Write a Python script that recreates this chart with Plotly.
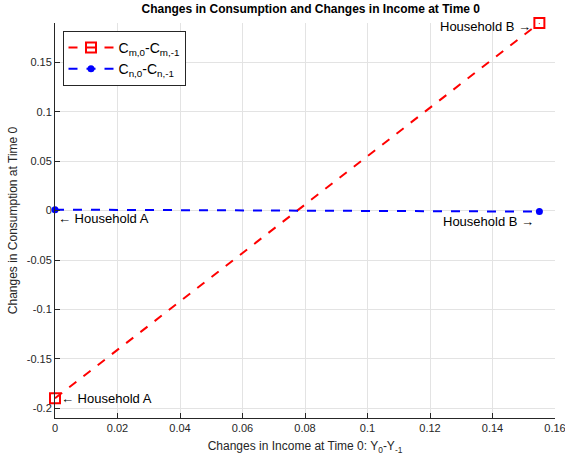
import plotly.graph_objects as go

x_m = [0.0, 0.155]
y_m = [-0.19, 0.19]
x_n = [0.0, 0.155]
y_n = [0.001, -0.001]

x_ticks = [0, 0.02, 0.04, 0.06, 0.08, 0.1, 0.12, 0.14, 0.16]
x_labels = ["0", "0.02", "0.04", "0.06", "0.08", "0.1", "0.12", "0.14", "0.16"]
y_ticks = [-0.2, -0.15, -0.1, -0.05, 0, 0.05, 0.1, 0.15]
y_labels = ["-0.2", "-0.15", "-0.1", "-0.05", "0", "0.05", "0.1", "0.15"]

font = "Liberation Sans, Arial, sans-serif"

fig = go.Figure()
fig.add_trace(go.Scatter(
    x=x_m, y=y_m, mode="lines+markers", cliponaxis=False,
    name="C<sub>m,0</sub>-C<sub>m,-1</sub>",
    line=dict(color="#ff0000", width=2, dash="dash"),
    marker=dict(symbol="square-open", size=10, color="#ff0000", line=dict(width=2, color="#ff0000")),
))
fig.add_trace(go.Scatter(
    x=x_n, y=y_n, mode="lines+markers", cliponaxis=False,
    name="C<sub>n,0</sub>-C<sub>n,-1</sub>",
    line=dict(color="#0000ff", width=2, dash="dash"),
    marker=dict(symbol="circle", size=7, color="#0000ff"),
))

ann_font = dict(family=font, size=13, color="#000000")
annots = [
    (x_n[0], y_n[0], "← Household A", "left", 1, -9),
    (x_n[1], y_n[1], "Household B →", "right", -3, -10),
    (x_m[0], y_m[0], "← Household A", "left", 4, 0),
    (x_m[1], y_m[1], "Household B →", "right", -6, -3),
]
for ax_, ay_, t, anc, sh, ys in annots:
    fig.add_annotation(x=ax_, y=ay_, text=t, showarrow=False, xanchor=anc,
                       yanchor="middle", xshift=sh, yshift=ys,
                       font=ann_font)

fig.update_layout(
    width=565, height=461,
    paper_bgcolor="white", plot_bgcolor="white",
    margin=dict(l=55, r=10, t=23, b=43, autoexpand=False),
    title=dict(text="<b>Changes in Consumption and Changes in Income at Time 0</b>",
               x=0.55, xanchor="center", y=0.99, yanchor="top",
               font=dict(family=font, size=12, color="#000000")),
    font=dict(family=font, size=11, color="#262626"),
    showlegend=True,
    legend=dict(x=0.015, y=0.98, xanchor="left", yanchor="top",
                bordercolor="#262626", borderwidth=1, bgcolor="white",
                font=dict(family=font, size=14, color="#000000"),
                tracegroupgap=0, itemwidth=45),
    xaxis=dict(range=[0, 0.16], tickvals=x_ticks, ticktext=x_labels,
               automargin=False, ticklabeloverflow="allow",
               showgrid=True, gridcolor="#e3e3e3", gridwidth=1,
               showline=True, linecolor="#262626", linewidth=1,
               ticks="inside", ticklen=5, tickcolor="#262626",
               zeroline=False, mirror=False,
               title=dict(text="Changes in Income at Time 0: Y<sub>0</sub>-Y<sub>-1</sub>",
                          font=dict(family=font, size=12, color="#262626"), standoff=8)),
    yaxis=dict(range=[-0.21, 0.19], tickvals=y_ticks, ticktext=y_labels,
               automargin=False, ticklabeloverflow="allow",
               showgrid=True, gridcolor="#e3e3e3", gridwidth=1,
               showline=True, linecolor="#262626", linewidth=1,
               ticks="inside", ticklen=5, tickcolor="#262626",
               zeroline=False, mirror=False,
               title=dict(text="Changes in Consumption at Time 0",
                          font=dict(family=font, size=12, color="#262626"), standoff=6)),
)

fig.write_html("out.html", config={"displayModeBar": False})
with open("out.html", encoding="utf-8") as f:
    html = f.read()
html = html.replace("<head>", "<head><style>html,body{margin:0;padding:0;overflow:hidden;}</style>", 1)
with open("out.html", "w", encoding="utf-8") as f:
    f.write(html)
